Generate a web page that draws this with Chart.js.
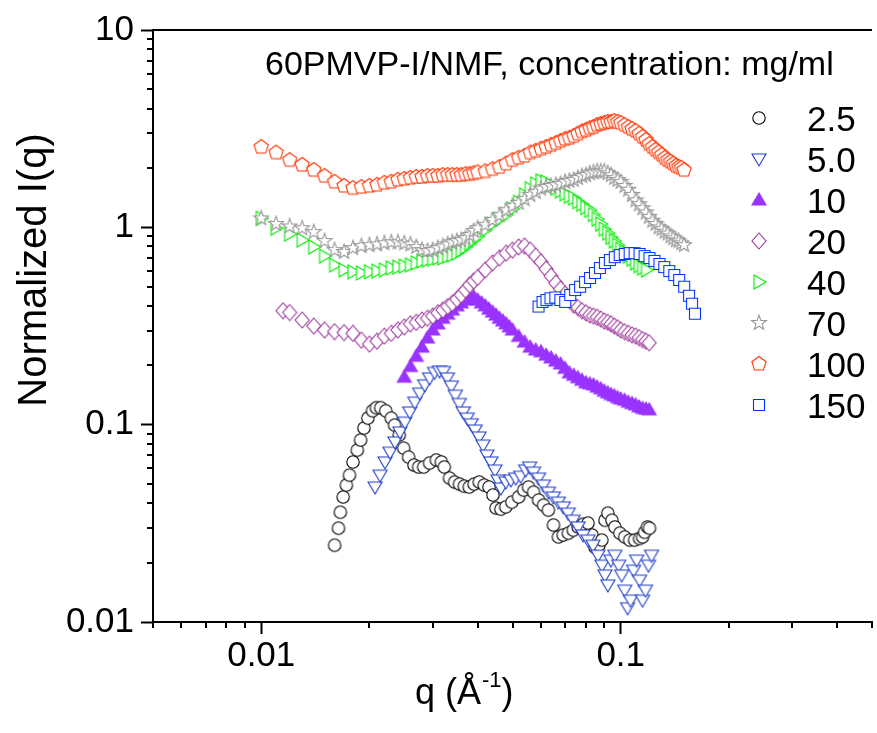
<!DOCTYPE html>
<html>
<head>
<meta charset="utf-8">
<title>60PMVP-I/NMF SAXS</title>
<script src="https://cdn.jsdelivr.net/npm/chart.js@4.4.1/dist/chart.umd.min.js"></script>
<style>
  html, body { margin: 0; padding: 0; background: #fff; overflow: hidden; }
  #box { width: 877px; height: 733px; overflow: hidden; }
</style>
</head>
<body>
<div id="box"><canvas id="saxsChart" width="880" height="733"></canvas></div>
<script>
// q (1/A) and normalized I(q), one pair per concentration (mg/ml)
const q25 = [0.0160, 0.0164, 0.0166, 0.0169, 0.01725, 0.0176, 0.0180, 0.0185, 0.0189, 0.0193, 0.0198, 0.0204, 0.0209, 0.0215, 0.0222, 0.0230, 0.0235, 0.0242, 0.0249, 0.0257, 0.0266, 0.0274, 0.0283, 0.0294, 0.0307, 0.0317, 0.0323, 0.0334, 0.0345, 0.0356, 0.0367, 0.0379, 0.0391, 0.0404, 0.0417, 0.0430, 0.0441, 0.0450, 0.0464, 0.0479, 0.0498, 0.0520, 0.0537, 0.0554, 0.0572, 0.0591, 0.0610, 0.0629, 0.0650, 0.0671, 0.0692, 0.0715, 0.0738, 0.0761, 0.0786, 0.0811, 0.0832, 0.0848, 0.0870, 0.0886, 0.0904, 0.0921, 0.0945, 0.0963, 0.0994, 0.1026, 0.1059, 0.1093, 0.1128, 0.1150, 0.1165, 0.1187, 0.1202];
const i25 = [0.0245, 0.0299, 0.0360, 0.0430, 0.0494, 0.0555, 0.0647, 0.0743, 0.0836, 0.0961, 0.108, 0.1176, 0.1219, 0.1219, 0.1176, 0.108, 0.0995, 0.0886, 0.0760, 0.0685, 0.0624, 0.0610, 0.0610, 0.0639, 0.0662, 0.0647, 0.0610, 0.0536, 0.0512, 0.0500, 0.0488, 0.0483, 0.0500, 0.0512, 0.0494, 0.0483, 0.0440, 0.0378, 0.0373, 0.0383, 0.0405, 0.0430, 0.0466, 0.0483, 0.0455, 0.0415, 0.0391, 0.0369, 0.0310, 0.0270, 0.0276, 0.0282, 0.0292, 0.0303, 0.0313, 0.0317, 0.0276, 0.0239, 0.0245, 0.0260, 0.0328, 0.0356, 0.0328, 0.0303, 0.0282, 0.0270, 0.0260, 0.0260, 0.0265, 0.0270, 0.0285, 0.0303, 0.0299];

const q50 = [0.02074, 0.02141, 0.02210, 0.02281, 0.02354, 0.02430, 0.02508, 0.02589, 0.02673, 0.02759, 0.02848, 0.02940, 0.03035, 0.03133, 0.03213, 0.03295, 0.03380, 0.03467, 0.03556, 0.03648, 0.03741, 0.03837, 0.03936, 0.04036, 0.04140, 0.04246, 0.04355, 0.04467, 0.04553, 0.04642, 0.04791, 0.04946, 0.05105, 0.05269, 0.05439, 0.05579, 0.05722, 0.05906, 0.06097, 0.06293, 0.06496, 0.06706, 0.06922, 0.07145, 0.07375, 0.07612, 0.07858, 0.08111, 0.08371, 0.08642, 0.08864, 0.09035, 0.09210, 0.09387, 0.09627, 0.09874, 0.1006, 0.1026, 0.1045, 0.1065, 0.1086, 0.1107, 0.1128, 0.1150, 0.1172, 0.1195, 0.1218];
const i50 = [0.0483, 0.0555, 0.0647, 0.0725, 0.0817, 0.0918, 0.103, 0.116, 0.130, 0.1445, 0.159, 0.1725, 0.184, 0.187, 0.186, 0.1725, 0.157, 0.141, 0.128, 0.116, 0.108, 0.101, 0.0939, 0.0866, 0.0788, 0.0701, 0.0647, 0.0589, 0.0524, 0.0477, 0.0512, 0.0524, 0.0536, 0.0548, 0.0589, 0.0610, 0.0575, 0.0536, 0.0494, 0.0455, 0.0430, 0.0405, 0.0383, 0.0356, 0.0328, 0.0303, 0.0276, 0.0260, 0.0245, 0.0218, 0.0194, 0.0173, 0.0154, 0.0206, 0.0218, 0.0194, 0.0173, 0.0145, 0.0118, 0.0129, 0.0183, 0.0206, 0.0163, 0.0129, 0.0145, 0.0194, 0.0218];

const q10 = [0.025, 0.026, 0.027, 0.028, 0.029, 0.030, 0.031, 0.032, 0.033, 0.034, 0.035, 0.036, 0.037, 0.038, 0.039, 0.040, 0.041, 0.042, 0.043, 0.044, 0.045, 0.046, 0.047, 0.048, 0.049, 0.050, 0.052, 0.054, 0.056, 0.058, 0.060, 0.062, 0.064, 0.066, 0.068, 0.070, 0.072, 0.074, 0.076, 0.078, 0.080, 0.082, 0.084, 0.086, 0.088, 0.090, 0.092, 0.094, 0.096, 0.098, 0.100, 0.1025, 0.105, 0.1075, 0.110, 0.1125, 0.115, 0.1175, 0.120];
const i10 = [0.174, 0.197, 0.222, 0.247, 0.275, 0.302, 0.324, 0.346, 0.363, 0.381, 0.400, 0.414, 0.428, 0.440, 0.445, 0.428, 0.414, 0.400, 0.385, 0.372, 0.359, 0.346, 0.335, 0.324, 0.313, 0.302, 0.280, 0.262, 0.247, 0.239, 0.234, 0.225, 0.218, 0.210, 0.203, 0.193, 0.183, 0.178, 0.173, 0.168, 0.163, 0.161, 0.159, 0.155, 0.152, 0.148, 0.145, 0.142, 0.140, 0.137, 0.135, 0.133, 0.130, 0.128, 0.126, 0.123, 0.121, 0.120, 0.119];

const q20 = [0.0115, 0.012, 0.013, 0.014, 0.015, 0.016, 0.017, 0.018, 0.019, 0.020, 0.021, 0.022, 0.023, 0.024, 0.025, 0.026, 0.027, 0.028, 0.029, 0.030, 0.031, 0.032, 0.033, 0.034, 0.035, 0.036, 0.037, 0.038, 0.039, 0.040, 0.042, 0.044, 0.046, 0.048, 0.050, 0.052, 0.054, 0.056, 0.058, 0.060, 0.062, 0.064, 0.066, 0.068, 0.070, 0.072, 0.074, 0.076, 0.078, 0.080, 0.082, 0.084, 0.086, 0.088, 0.090, 0.092, 0.094, 0.096, 0.098, 0.100, 0.1025, 0.105, 0.1075, 0.110, 0.1125, 0.115, 0.1175, 0.120];
const i20 = [0.378, 0.370, 0.339, 0.316, 0.302, 0.296, 0.293, 0.290, 0.268, 0.256, 0.265, 0.281, 0.290, 0.302, 0.313, 0.324, 0.330, 0.339, 0.346, 0.355, 0.369, 0.381, 0.397, 0.412, 0.432, 0.454, 0.481, 0.510, 0.535, 0.557, 0.608, 0.660, 0.700, 0.740, 0.767, 0.795, 0.804, 0.767, 0.715, 0.668, 0.615, 0.566, 0.522, 0.487, 0.459, 0.428, 0.404, 0.392, 0.378, 0.369, 0.360, 0.355, 0.350, 0.343, 0.335, 0.330, 0.324, 0.316, 0.310, 0.302, 0.296, 0.290, 0.285, 0.281, 0.276, 0.270, 0.265, 0.260];

const q40 = [0.010, 0.011, 0.012, 0.013, 0.014, 0.015, 0.016, 0.017, 0.018, 0.019, 0.020, 0.021, 0.022, 0.023, 0.024, 0.025, 0.026, 0.027, 0.028, 0.029, 0.030, 0.031, 0.032, 0.033, 0.034, 0.035, 0.036, 0.037, 0.038, 0.039, 0.040, 0.042, 0.044, 0.046, 0.048, 0.050, 0.052, 0.054, 0.056, 0.058, 0.060, 0.062, 0.064, 0.066, 0.068, 0.070, 0.072, 0.074, 0.076, 0.078, 0.080, 0.082, 0.084, 0.086, 0.088, 0.090, 0.092, 0.094, 0.096, 0.098, 0.100, 0.1025, 0.105, 0.1075, 0.110, 0.1125, 0.115, 0.118];
const i40 = [1.11, 0.99, 0.925, 0.862, 0.795, 0.715, 0.644, 0.608, 0.595, 0.587, 0.595, 0.600, 0.608, 0.622, 0.629, 0.636, 0.644, 0.660, 0.676, 0.683, 0.690, 0.700, 0.700, 0.715, 0.724, 0.740, 0.767, 0.795, 0.830, 0.862, 0.900, 0.969, 1.04, 1.10, 1.16, 1.24, 1.34, 1.46, 1.57, 1.66, 1.72, 1.70, 1.64, 1.58, 1.53, 1.48, 1.44, 1.41, 1.35, 1.31, 1.26, 1.22, 1.16, 1.10, 1.04, 0.98, 0.935, 0.89, 0.852, 0.813, 0.776, 0.745, 0.715, 0.690, 0.660, 0.640, 0.622, 0.608];

const q70 = [0.010, 0.011, 0.012, 0.013, 0.014, 0.015, 0.016, 0.017, 0.018, 0.019, 0.020, 0.021, 0.022, 0.023, 0.024, 0.025, 0.026, 0.027, 0.028, 0.029, 0.030, 0.031, 0.032, 0.033, 0.034, 0.035, 0.036, 0.037, 0.038, 0.039, 0.040, 0.042, 0.044, 0.046, 0.048, 0.050, 0.052, 0.054, 0.056, 0.058, 0.060, 0.062, 0.064, 0.066, 0.068, 0.070, 0.072, 0.074, 0.076, 0.078, 0.080, 0.082, 0.084, 0.086, 0.088, 0.090, 0.092, 0.094, 0.096, 0.098, 0.100, 0.1025, 0.105, 0.1075, 0.110, 0.1125, 0.115, 0.1175, 0.120, 0.1225, 0.125, 0.1275, 0.130, 0.1325, 0.135, 0.1375, 0.140, 0.1425, 0.145, 0.1475, 0.150];
const i70 = [1.11, 1.04, 1.01, 0.99, 0.946, 0.852, 0.767, 0.750, 0.785, 0.804, 0.813, 0.820, 0.830, 0.840, 0.840, 0.830, 0.820, 0.795, 0.767, 0.760, 0.767, 0.785, 0.800, 0.820, 0.840, 0.852, 0.862, 0.880, 0.914, 0.960, 0.990, 1.03, 1.09, 1.15, 1.22, 1.28, 1.33, 1.39, 1.46, 1.51, 1.57, 1.60, 1.62, 1.64, 1.66, 1.70, 1.72, 1.74, 1.78, 1.82, 1.84, 1.88, 1.90, 1.92, 1.92, 1.92, 1.88, 1.84, 1.78, 1.74, 1.70, 1.62, 1.55, 1.46, 1.37, 1.31, 1.25, 1.19, 1.13, 1.08, 1.04, 1.00, 0.98, 0.95, 0.93, 0.90, 0.88, 0.86, 0.85, 0.83, 0.813];

const q100 = [0.010, 0.011, 0.012, 0.013, 0.014, 0.015, 0.016, 0.017, 0.018, 0.019, 0.020, 0.021, 0.022, 0.023, 0.024, 0.025, 0.026, 0.027, 0.028, 0.029, 0.030, 0.031, 0.032, 0.033, 0.034, 0.035, 0.036, 0.037, 0.038, 0.039, 0.040, 0.042, 0.044, 0.046, 0.048, 0.050, 0.052, 0.054, 0.056, 0.058, 0.060, 0.062, 0.064, 0.066, 0.068, 0.070, 0.072, 0.074, 0.076, 0.078, 0.080, 0.082, 0.084, 0.086, 0.088, 0.090, 0.092, 0.094, 0.096, 0.098, 0.100, 0.1025, 0.105, 0.1075, 0.110, 0.1125, 0.115, 0.1175, 0.120, 0.1225, 0.125, 0.1275, 0.130, 0.1325, 0.135, 0.1375, 0.140, 0.1425, 0.145, 0.1475, 0.150];
const i100 = [2.55, 2.39, 2.19, 2.07, 1.95, 1.82, 1.70, 1.62, 1.58, 1.60, 1.62, 1.64, 1.68, 1.70, 1.74, 1.76, 1.78, 1.80, 1.80, 1.82, 1.82, 1.82, 1.84, 1.84, 1.84, 1.84, 1.84, 1.86, 1.86, 1.88, 1.90, 1.92, 1.97, 2.02, 2.10, 2.19, 2.25, 2.30, 2.39, 2.44, 2.50, 2.55, 2.61, 2.67, 2.74, 2.80, 2.84, 2.90, 2.98, 3.06, 3.11, 3.18, 3.22, 3.30, 3.34, 3.38, 3.42, 3.42, 3.46, 3.42, 3.38, 3.30, 3.22, 3.15, 3.08, 2.98, 2.87, 2.77, 2.64, 2.55, 2.47, 2.40, 2.33, 2.25, 2.19, 2.15, 2.10, 2.05, 2.02, 2.00, 1.95];

const q150 = [0.05906, 0.06060, 0.06216, 0.06376, 0.06579, 0.06792, 0.07009, 0.07236, 0.07467, 0.07710, 0.07958, 0.08214, 0.08479, 0.08752, 0.09035, 0.09327, 0.09627, 0.09937, 0.1026, 0.1059, 0.1093, 0.1128, 0.1165, 0.1202, 0.1241, 0.1281, 0.1322, 0.1365, 0.1409, 0.1454, 0.1501, 0.1549, 0.1579, 0.1609];
const i150 = [0.397, 0.419, 0.428, 0.437, 0.441, 0.428, 0.419, 0.454, 0.481, 0.500, 0.528, 0.554, 0.587, 0.622, 0.660, 0.683, 0.706, 0.724, 0.733, 0.740, 0.740, 0.733, 0.715, 0.699, 0.676, 0.652, 0.629, 0.600, 0.573, 0.541, 0.500, 0.450, 0.410, 0.365];

const concLabels = ['2.5', '5.0', '10', '20', '40', '70', '100', '150'];
const xTickVals = [0.005, 0.006, 0.007, 0.008, 0.009, 0.01, 0.02, 0.03, 0.04, 0.05, 0.06, 0.07, 0.08, 0.09, 0.1, 0.2, 0.3, 0.4, 0.5];
const yTickVals = [0.01, 0.02, 0.03, 0.04, 0.05, 0.06, 0.07, 0.08, 0.09, 0.1, 0.2, 0.3, 0.4, 0.5, 0.6, 0.7, 0.8, 0.9, 1, 2, 3, 4, 5, 6, 7, 8, 9, 10];
const xLabelVals = [0.01, 0.1];
const yLabelVals = [0.01, 0.1, 1, 10];

const FONT = "'Liberation Sans', Arial, sans-serif";
Chart.defaults.font.family = FONT;
Chart.defaults.color = '#000';

function isDecade(v) {
	const l = Math.log10(v);
	return Math.abs(l - Math.round(l)) < 1e-6;
}

// small canvases used as point styles (Origin-like open symbols with white fill)
function marker(shape, stroke, fill) {
	const c = document.createElement('canvas');
	c.width = 18; c.height = 18;
	const g = c.getContext('2d');
	g.translate(9, 9);
	g.lineWidth = 1.1;
	g.strokeStyle = stroke;
	g.fillStyle = fill;
	g.beginPath();
	if (shape === 'circle') {
		g.arc(0, 0, 6.2, 0, Math.PI * 2);
	} else if (shape === 'down') {
		g.moveTo(-7, -5); g.lineTo(7, -5); g.lineTo(0, 7); g.closePath();
	} else if (shape === 'up') {
		g.moveTo(0, -7); g.lineTo(7, 5); g.lineTo(-7, 5); g.closePath();
	} else if (shape === 'right') {
		g.moveTo(-5, -7); g.lineTo(7, 0); g.lineTo(-5, 7); g.closePath();
	} else if (shape === 'diamond') {
		g.moveTo(0, -8); g.lineTo(7, 0); g.lineTo(0, 8); g.lineTo(-7, 0); g.closePath();
	} else if (shape === 'square') {
		g.rect(-5.5, -5.5, 11, 11);
	} else if (shape === 'star') {
		for (let k = 0; k < 10; k++) {
			const r = k % 2 ? 3.2 : 7.8;
			const a = -Math.PI / 2 + k * Math.PI / 5;
			if (k === 0) g.moveTo(r * Math.cos(a), r * Math.sin(a));
			else g.lineTo(r * Math.cos(a), r * Math.sin(a));
		}
		g.closePath();
	} else if (shape === 'pentagon') {
		for (let k = 0; k < 5; k++) {
			const a = -Math.PI / 2 + k * 2 * Math.PI / 5;
			if (k === 0) g.moveTo(7.5 * Math.cos(a), 7.5 * Math.sin(a));
			else g.lineTo(7.5 * Math.cos(a), 7.5 * Math.sin(a));
		}
		g.closePath();
	}
	g.fill();
	g.stroke();
	return c;
}

const series = [
	{ q: q25, i: i25, m: marker('circle', '#000000', '#ffffff') },
	{ q: q50, i: i50, m: marker('down', '#1f3cc8', '#ffffff') },
	{ q: q10, i: i10, m: marker('up', '#9933ff', '#9933ff') },
	{ q: q20, i: i20, m: marker('diamond', '#993399', '#ffffff') },
	{ q: q40, i: i40, m: marker('right', '#00ee00', '#ffffff') },
	{ q: q70, i: i70, m: marker('star', '#999999', '#ffffff') },
	{ q: q100, i: i100, m: marker('pentagon', '#ff3300', '#ffffff') },
	{ q: q150, i: i150, m: marker('square', '#0033ff', '#ffffff') }
];

const datasets = series.map((s, n) => ({
	label: concLabels[n],
	data: s.q.map((q, k) => ({ x: q, y: s.i[k] })),
	pointStyle: s.m,
	pointRadius: 7,
	showLine: false,
	order: -n
}));

// frame top line, short minor ticks, titles and the legend
const decor = {
	id: 'decor',
	afterDraw(chart) {
		const ctx = chart.ctx;
		const a = chart.chartArea;
		const x = chart.scales.x, y = chart.scales.y;
		ctx.save();
		ctx.strokeStyle = '#000';
		ctx.lineWidth = 2;
		ctx.beginPath();
		ctx.moveTo(a.left - 1, a.top);
		ctx.lineTo(a.right, a.top);
		xTickVals.forEach(v => {
			if (isDecade(v)) return;
			const px = Math.round(x.getPixelForValue(v));
			ctx.moveTo(px, a.bottom);
			ctx.lineTo(px, a.bottom + 6);
		});
		yTickVals.forEach(v => {
			if (isDecade(v)) return;
			const py = Math.round(y.getPixelForValue(v));
			ctx.moveTo(a.left, py);
			ctx.lineTo(a.left - 6, py);
		});
		ctx.stroke();

		ctx.fillStyle = '#000';
		ctx.textBaseline = 'alphabetic';
		ctx.textAlign = 'left';
		ctx.font = '34px ' + FONT;
		ctx.fillText('60PMVP-I/NMF, concentration: mg/ml', 265, 75);

		// legend
		ctx.font = '35px ' + FONT;
		series.forEach((s, n) => {
			const cy = 118 + n * 41;
			ctx.drawImage(s.m, 759 - 9, cy - 9);
			ctx.fillText(concLabels[n], 807, cy + 13);
		});

		// x title: q (Å^-1)
		let tx = 415;
		const base = 704;
		ctx.font = '36px ' + FONT;
		ctx.fillText('q (Å', tx, base);
		tx += ctx.measureText('q (Å').width;
		ctx.font = '22px ' + FONT;
		ctx.fillText('-1', tx + 1, base - 17);
		tx += ctx.measureText('-1').width + 1;
		ctx.font = '36px ' + FONT;
		ctx.fillText(')', tx, base);

		// y title
		ctx.translate(46, 270);
		ctx.rotate(-Math.PI / 2);
		ctx.textAlign = 'center';
		ctx.font = '40px ' + FONT;
		ctx.fillText('Normalized I(q)', 0, 0);
		ctx.restore();
	}
};

new Chart(document.getElementById('saxsChart'), {
	type: 'scatter',
	data: { datasets: datasets },
	options: {
		responsive: false,
		animation: false,
		events: [],
		layout: { padding: { top: 30, right: 0, bottom: 0, left: 0 } },
		plugins: {
			legend: { display: false },
			tooltip: { enabled: false }
		},
		scales: {
			x: {
				type: 'logarithmic',
				min: 0.005,
				max: 0.5,
				afterFit: s => { s.height = 111; },
				afterBuildTicks: s => { s.ticks = xTickVals.map(v => ({ value: v })); },
				border: { display: true, color: '#000', width: 2 },
				grid: {
					drawOnChartArea: false,
					drawTicks: true,
					tickLength: 12,
					tickWidth: 2,
					tickColor: c => (c.tick && isDecade(c.tick.value)) ? '#000' : 'rgba(0,0,0,0)'
				},
				ticks: {
					autoSkip: false,
					maxRotation: 0,
					padding: 1,
					font: { size: 35 },
					color: '#000',
					callback: v => xLabelVals.some(t => Math.abs(t - v) < 1e-9) ? String(v) : ''
				}
			},
			y: {
				type: 'logarithmic',
				min: 0.01,
				max: 10,
				afterFit: s => { s.width = 153; },
				afterBuildTicks: s => { s.ticks = yTickVals.map(v => ({ value: v })); },
				border: { display: true, color: '#000', width: 2 },
				grid: {
					drawOnChartArea: false,
					drawTicks: true,
					tickLength: 12,
					tickWidth: 2,
					tickColor: c => (c.tick && isDecade(c.tick.value)) ? '#000' : 'rgba(0,0,0,0)'
				},
				ticks: {
					autoSkip: false,
					padding: 7,
					font: { size: 35 },
					color: '#000',
					callback: v => yLabelVals.some(t => Math.abs(t - v) < 1e-9) ? String(v) : ''
				}
			}
		}
	},
	plugins: [decor]
});
</script>
</body>
</html>
